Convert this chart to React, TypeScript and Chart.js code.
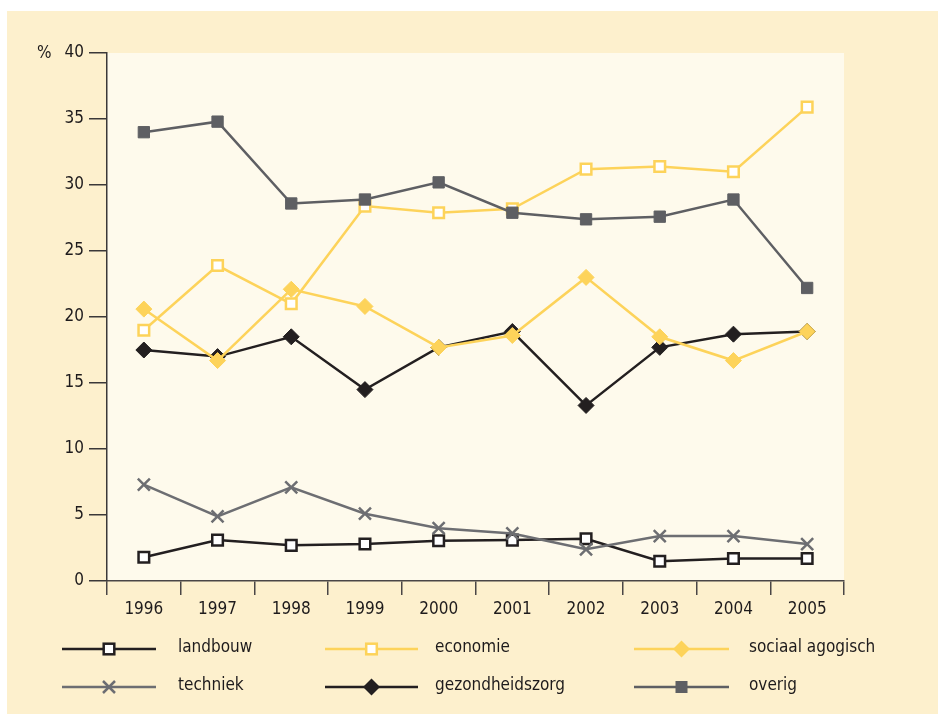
import React, { useEffect, useRef } from 'react';
import { Chart, registerables } from 'chart.js';

Chart.register(...registerables);

const years = ['1996', '1997', '1998', '1999', '2000', '2001', '2002', '2003', '2004', '2005'];
const landbouw = [1.8, 3.1, 2.7, 2.8, 3.05, 3.1, 3.2, 1.5, 1.7, 1.7];
const economie = [19.0, 23.9, 21.0, 28.4, 27.9, 28.2, 31.2, 31.4, 31.0, 35.9];
const sociaalAgogisch = [20.6, 16.7, 22.1, 20.8, 17.7, 18.6, 23.0, 18.5, 16.7, 18.9];
const techniek = [7.3, 4.9, 7.1, 5.1, 4.0, 3.6, 2.4, 3.4, 3.4, 2.8];
const gezondheidszorg = [17.5, 17.0, 18.5, 14.5, 17.7, 18.9, 13.3, 17.7, 18.7, 18.9];
const overig = [34.0, 34.8, 28.6, 28.9, 30.2, 27.9, 27.4, 27.6, 28.9, 22.2];
const yMin = 0;
const yMax = 40;
const yStep = 5;
const yUnit = '%';

const FONT = "'Liberation Sans Narrow', 'DejaVu Sans Condensed', 'Roboto Condensed', sans-serif";
const FONT_SIZE = 17;
const TEXT = '#1e1b1c';
const BLACK = '#231f20';
const YELLOW = '#fdd35a';
const DARKGRAY = '#5e5f63';
const GRAY = '#6d6e72';
const FRAME = '#fdf0cd';
const PLOTBG = '#fefaec';

type Marker = 'openSquare' | 'diamond' | 'filledSquare' | 'cross';

const series: { label: string; data: number[]; color: string; marker: Marker }[] = [
  { label: 'landbouw', data: landbouw, color: BLACK, marker: 'openSquare' },
  { label: 'economie', data: economie, color: YELLOW, marker: 'openSquare' },
  { label: 'sociaal agogisch', data: sociaalAgogisch, color: YELLOW, marker: 'diamond' },
  { label: 'techniek', data: techniek, color: GRAY, marker: 'cross' },
  { label: 'gezondheidszorg', data: gezondheidszorg, color: BLACK, marker: 'diamond' },
  { label: 'overig', data: overig, color: DARKGRAY, marker: 'filledSquare' },
];

// drawing order: lower "order" is drawn on top
const drawOrder: Record<string, number> = {
  overig: 0,
  'sociaal agogisch': 1,
  gezondheidszorg: 2,
  economie: 3,
  techniek: 4,
  landbouw: 5,
};

function pointProps(marker: Marker, color: string) {
  switch (marker) {
    case 'openSquare':
      return { pointStyle: 'rect', pointRadius: 7.5, pointBackgroundColor: '#ffffff', pointBorderColor: color, pointBorderWidth: 2.5 };
    case 'diamond':
      return { pointStyle: 'rectRot', pointRadius: 8, pointBackgroundColor: color, pointBorderColor: color, pointBorderWidth: 1 };
    case 'filledSquare':
      return { pointStyle: 'rect', pointRadius: 8, pointBackgroundColor: color, pointBorderColor: color, pointBorderWidth: 1 };
    case 'cross':
    default:
      return { pointStyle: 'crossRot', pointRadius: 8.5, pointBackgroundColor: color, pointBorderColor: color, pointBorderWidth: 2.5 };
  }
}

function drawMarker(ctx: CanvasRenderingContext2D, marker: Marker, color: string, x: number, y: number) {
  ctx.save();
  ctx.lineWidth = 2.5;
  ctx.strokeStyle = color;
  ctx.fillStyle = color;
  if (marker === 'openSquare') {
    const s = 5.3;
    ctx.fillStyle = '#ffffff';
    ctx.fillRect(x - s, y - s, 2 * s, 2 * s);
    ctx.strokeRect(x - s, y - s, 2 * s, 2 * s);
  } else if (marker === 'filledSquare') {
    const s = 6;
    ctx.fillRect(x - s, y - s, 2 * s, 2 * s);
  } else if (marker === 'diamond') {
    const r = 8.5;
    ctx.beginPath();
    ctx.moveTo(x - r, y);
    ctx.lineTo(x, y - r);
    ctx.lineTo(x + r, y);
    ctx.lineTo(x, y + r);
    ctx.closePath();
    ctx.fill();
  } else {
    const r = 6;
    ctx.beginPath();
    ctx.moveTo(x - r, y - r);
    ctx.lineTo(x + r, y + r);
    ctx.moveTo(x + r, y - r);
    ctx.lineTo(x - r, y + r);
    ctx.stroke();
  }
  ctx.restore();
}

const decorPlugin = {
  id: 'decor',
  beforeDraw(chart: any) {
    const { ctx, chartArea } = chart;
    ctx.save();
    ctx.fillStyle = FRAME;
    ctx.fillRect(0, 0, chart.width, chart.height);
    ctx.fillStyle = PLOTBG;
    ctx.fillRect(chartArea.left, chartArea.top, chartArea.right - chartArea.left, chartArea.bottom - chartArea.top);
    ctx.restore();
  },
  afterDraw(chart: any) {
    const { ctx, chartArea } = chart;
    ctx.save();
    ctx.font = `${FONT_SIZE}px ${FONT}`;
    ctx.fillStyle = TEXT;
    ctx.textBaseline = 'middle';
    ctx.textAlign = 'left';
    ctx.fillText(yUnit, 30, chartArea.top + 1);

    const cols = [
      { x1: 55, x2: 149, tx: 171 },
      { x1: 318, x2: 411, tx: 428 },
      { x1: 627, x2: 722, tx: 742 },
    ];
    const rows = [638, 676];
    series.forEach((s, i) => {
      const c = cols[i % 3];
      const y = rows[Math.floor(i / 3)];
      ctx.strokeStyle = s.color;
      ctx.lineWidth = 2.5;
      ctx.beginPath();
      ctx.moveTo(c.x1, y);
      ctx.lineTo(c.x2, y);
      ctx.stroke();
      drawMarker(ctx, s.marker, s.color, (c.x1 + c.x2) / 2, y);
      ctx.fillStyle = TEXT;
      ctx.font = `${FONT_SIZE}px ${FONT}`;
      ctx.textBaseline = 'middle';
      ctx.fillText(s.label, c.tx, y - 1);
    });
    ctx.restore();
  },
};

export default function App() {
  const canvasRef = useRef<HTMLCanvasElement | null>(null);

  useEffect(() => {
    if (!canvasRef.current) return;
    const yTicks: number[] = [];
    for (let v = yMin; v <= yMax; v += yStep) yTicks.push(v);

    const datasets = series.map((s) => ({
      label: s.label,
      data: s.data,
      borderColor: s.color,
      backgroundColor: s.color,
      borderWidth: 2.5,
      tension: 0,
      fill: false,
      order: drawOrder[s.label],
      ...pointProps(s.marker, s.color),
    }));

    const chart = new Chart(canvasRef.current, {
      type: 'line',
      data: { labels: years, datasets: datasets as any },
      plugins: [decorPlugin],
      options: {
        responsive: false,
        animation: false,
        maintainAspectRatio: false,
        layout: { padding: { top: 42, left: 0, right: 94, bottom: 93 } },
        plugins: { legend: { display: false }, tooltip: { enabled: false } },
        scales: {
          x: {
            type: 'category',
            offset: true,
            grid: {
              offset: true,
              drawOnChartArea: false,
              drawTicks: true,
              tickLength: 14,
              color: '#4a4646',
              lineWidth: 1.5,
            },
            border: { color: '#4a4646', width: 1.5 },
            ticks: { color: TEXT, font: { family: FONT, size: FONT_SIZE }, padding: 4, maxRotation: 0 },
            afterFit: (scale: any) => { scale.height = 40; },
          },
          y: {
            min: yMin,
            max: yMax,
            afterBuildTicks: (scale: any) => { scale.ticks = yTicks.map((v) => ({ value: v })); },
            grid: {
              drawOnChartArea: false,
              drawTicks: true,
              tickLength: 18,
              color: '#3b3838',
              lineWidth: 1.5,
            },
            border: { color: '#3b3838', width: 1.5 },
            ticks: { color: TEXT, font: { family: FONT, size: FONT_SIZE }, padding: 5 },
            afterFit: (scale: any) => { scale.width = 100; },
          },
        },
      } as any,
    });
    return () => chart.destroy();
  }, []);

  return (
    <div style={{ position: 'absolute', left: 0, top: 0, width: 938, height: 714, background: '#ffffff', overflow: 'hidden' }}>
      <div style={{ position: 'absolute', left: 7, top: 11, width: 931, height: 703 }}>
        <canvas ref={canvasRef} width={931} height={703} style={{ display: 'block', width: 931, height: 703 }} />
      </div>
    </div>
  );
}
